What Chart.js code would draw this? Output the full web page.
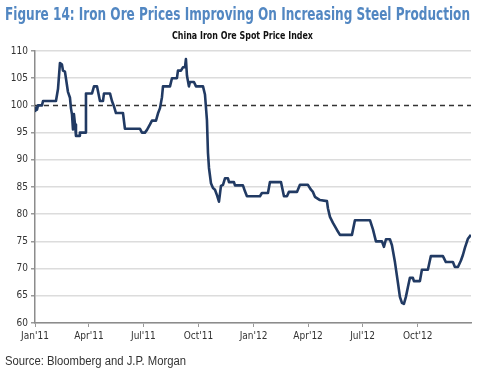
<!DOCTYPE html>
<html><head><meta charset="utf-8">
<script src="https://cdn.jsdelivr.net/npm/chart.js@4"></script>
<style>
html,body{margin:0;padding:0;background:#fff;width:480px;height:374px;overflow:hidden;}
#wrap{position:relative;width:480px;height:374px;}
#c{position:absolute;left:0;top:0;}
.t{position:absolute;white-space:nowrap;transform-origin:0 0;line-height:1;}
#title{left:5px;top:4px;font:bold 17px "Liberation Sans Narrow","Arial Narrow","DejaVu Sans Condensed","Liberation Sans",sans-serif;color:#5287c2;}
#sub{left:172px;top:29px;font:bold 11px "Liberation Sans Narrow","Arial Narrow","DejaVu Sans Condensed","Liberation Sans",sans-serif;color:#111;}
#src{left:5px;top:354px;font:12px "Liberation Sans",Arial,sans-serif;color:#333;}
</style></head>
<body><div id="wrap">
<canvas id="c" width="480" height="374"></canvas>
<div class="t" id="title" data-w="465">Figure 14: Iron Ore Prices Improving On Increasing Steel Production</div>
<div class="t" id="sub" data-w="141">China Iron Ore Spot Price Index</div>
<div class="t" id="src" data-w="181">Source: Bloomberg and J.P. Morgan</div>
</div>
<script>
// Days since 1 Jan 2011
const dayOffsets = [0,1.7,3.3,5,11.7,13.4,35,38.4,41.7,45,46.7,50,55,58.4,60,61.8,63.4,65,66.8,68.4,73.5,75,83.5,85.1,95.2,98.5,103.5,108.5,113.5,115.2,125.2,128.5,131.9,135.2,146.9,150.2,175.3,178.6,183.6,187,192,195.3,202,205.3,208.7,212,213.7,225.4,228.7,237,238.7,243.7,247,250.4,252,253.7,257,258.7,265.4,268.8,280.5,283.8,287.1,288.8,290.5,293.8,297.2,300.5,303.8,307.2,310.5,313.9,317.2,322.2,323.9,332.2,333.9,347.2,350.6,353.9,375.6,378.9,389,392.3,410.7,415.7,420.7,424,437.4,442.4,455.7,460.8,464.1,467.4,475.8,487.5,489.1,492.5,497.5,504.2,509.2,529.2,534.2,559.3,564.3,569.3,579.3,582.6,586,592.6,596,601,606,609.3,612.7,616,619.3,622.7,626,631,632.7,642.7,646,656,661,681.1,686.1,697.8,701.1,706.2,711.2,714.5,717.8,722.9,727.9];
const priceIndex = [98.8,99.6,99.2,100,100,100.8,100.8,103,107.8,107.5,106.4,106.2,102.5,101.4,99.5,98.3,95.6,98.4,96.5,94.4,94.4,95,95,102.2,102.2,103.5,103.5,100.8,100.8,102.2,102.2,100.8,99.8,98.6,98.6,95.7,95.7,95,95,95.5,96.5,97.2,97.2,98.5,99.5,101.5,103.5,103.5,105,105,106.4,106.4,107,107,108.5,105.5,103.5,104.3,104.3,103.5,103.5,102,97.3,91.3,88.5,85.7,84.8,84.5,83.5,82.3,85.2,85.4,86.6,86.6,85.9,85.9,85.3,85.3,84.2,83.3,83.3,83.9,83.9,85.9,85.9,83.3,83.3,84.1,84.1,85.4,85.4,84.5,84.1,83.2,82.6,82.4,81.1,79.5,78.4,77.1,76.2,76.2,78.9,78.9,77.2,75,75,74,75.4,75.4,74.3,71.2,67.4,64.8,63.7,63.5,64.8,66.6,68.3,68.3,67.7,67.7,69.8,69.8,72.3,72.3,71.2,71.2,70.3,70.3,71.5,72.5,73.8,75.5,76.2];
const tickDays = [0,90,181,273,365,456,547,639];
const tickLabels = ["Jan'11","Apr'11","Jul'11","Oct'11","Jan'12","Apr'12","Jul'12","Oct'12"];
const refLevel = 100;
const xMin = 0, xMax = 728;

const seriesData = dayOffsets.map((d,i)=>({x:d,y:priceIndex[i]}));
const refData = [{x:xMin,y:refLevel},{x:xMax,y:refLevel}];
const narrow = '"Liberation Sans Narrow","Arial Narrow","DejaVu Sans Condensed","Liberation Sans",sans-serif';

new Chart(document.getElementById('c'), {
  type:'line',
  data:{datasets:[
    {data:refData,borderColor:'#333',borderWidth:1.5,borderDash:[5,4],pointRadius:0,tension:0,order:2},
    {data:seriesData,borderColor:'#213a63',borderWidth:2.6,pointRadius:0,tension:0,borderJoinStyle:'round',order:1}
  ]},
  options:{
    responsive:false,animation:false,
    layout:{padding:{left:0,right:9,top:51,bottom:28}},
    plugins:{legend:{display:false},tooltip:{enabled:false}},
    scales:{
      x:{type:'linear',min:xMin,max:xMax,
        afterBuildTicks:s=>{s.ticks=tickDays.map(v=>({value:v}));},
        afterFit:s=>{s.height=23;},
        ticks:{autoSkip:false,maxRotation:0,padding:3,color:'#333',font:{family:narrow,size:10},
          callback:(v)=>{const i=tickDays.indexOf(v);return i>=0?tickLabels[i]:'';}},
        grid:{drawOnChartArea:false,drawTicks:true,tickLength:4,color:'#999',tickColor:'#999'},
        border:{color:'#8c8c8c',width:1.5}
      },
      y:{min:60,max:110,
        afterFit:s=>{s.width=35;},
        ticks:{stepSize:5,padding:3,color:'#333',font:{family:narrow,size:10}},
        grid:{color:c=>c.tick&&c.tick.value===refLevel?'rgba(0,0,0,0)':'#dcdcdc',lineWidth:1.5,tickLength:4,tickColor:'#999'},
        border:{color:'#8c8c8c',width:1.5}
      }
    }
  }
});

document.querySelectorAll('.t').forEach(el=>{
  const w=el.getBoundingClientRect().width, tw=+el.dataset.w;
  if(w>0) el.style.transform='scaleX('+(tw/w)+')';
});
</script>
</body></html>
